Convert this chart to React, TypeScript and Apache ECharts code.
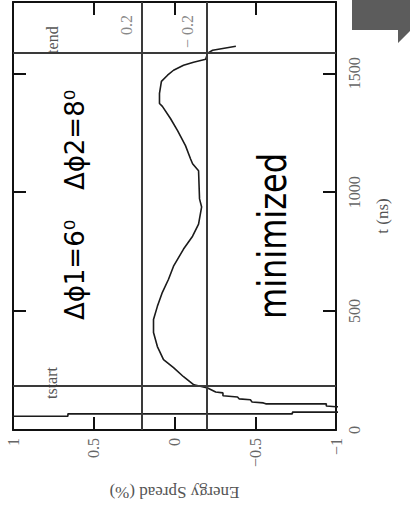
import React, { useEffect, useRef } from "react";
import * as echarts from "echarts";

// Bunch energy spread (%) sampled against time (ns)
const timeNs = [
  58, 58, 68, 68, 75, 75, 95, 98, 101, 110, 110, 114, 118, 127, 131, 139, 144, 156, 160,
  177, 190, 224, 262, 296, 351, 410, 465, 520, 579, 634, 689, 761, 815, 866, 938, 972,
  1090, 1120, 1141, 1196, 1259, 1310, 1361, 1373, 1416, 1466, 1492, 1513, 1534, 1547,
  1559, 1585, 1597, 1614,
];
const spreadPct = [
  1.6, 0.66, 0.66, -0.73, -0.73, -1.6, -1.6, -1.0, -0.94, -0.94, -0.565, -0.55, -0.48,
  -0.47, -0.4, -0.39, -0.3, -0.3, -0.255, -0.205, -0.12, -0.056, 0.006, 0.068, 0.106,
  0.13, 0.13, 0.106, 0.075, 0.037, 0.006, -0.056, -0.112, -0.149, -0.168, -0.155,
  -0.149, -0.112, -0.099, -0.068, -0.019, 0.025, 0.075, 0.093, 0.093, 0.081, 0.043,
  0.006, -0.056, -0.118, -0.193, -0.205, -0.236, -0.38,
];

// Axis ranges
const spreadRange = [-1, 1];
const spreadStep = 0.5;
const timeRange = [0, 1800];
const timeStep = 500;

// Reference markers
const tStart = 185;
const tEnd = 1585;
const spreadLimits = [0.2, -0.2];
const spreadLimitLabels = ["0.2", "\u2212 0.2"];

const SERIF = '"Liberation Serif", "DejaVu Serif", serif';
const SANS = '"DejaVu Sans", Verdana, sans-serif';
const FRAME = "#111";

const fmtSpread = (v: number) => (v < 0 ? "\u2212" + Math.abs(v) : String(v));
const fmtTime = (v: number) => String(v);

export default function App() {
  const ref = useRef<HTMLDivElement>(null);

  useEffect(() => {
    if (!ref.current) return;
    const chart = echarts.init(ref.current, undefined, { renderer: "svg" });

    const frameAxis = {
      axisLine: { show: true, onZero: false, lineStyle: { color: FRAME, width: 2 } },
      axisTick: { show: true, inside: true, length: 13, lineStyle: { color: FRAME, width: 2 } },
      splitLine: { show: false },
    };

    const option: any = {
      animation: false,
      backgroundColor: "#fff",
      grid: { left: 13, right: 74, top: 2, bottom: 80 },
      xAxis: [
        {
          type: "value",
          min: spreadRange[0],
          max: spreadRange[1],
          interval: spreadStep,
          inverse: true,
          position: "bottom",
          ...frameAxis,
          axisLabel: {
            rotate: 90,
            margin: 8,
            color: "#666",
            fontFamily: SERIF,
            fontSize: 16,
            formatter: fmtSpread,
          },
          name: "Energy Spread (%)",
          nameLocation: "middle",
          nameRotate: 180,
          nameGap: 54,
          nameTextStyle: { color: "#555", fontFamily: SERIF, fontSize: 17 },
        },
        {
          type: "value",
          min: spreadRange[0],
          max: spreadRange[1],
          interval: spreadStep,
          inverse: true,
          position: "top",
          ...frameAxis,
          axisLabel: { show: false },
        },
      ],
      yAxis: [
        {
          type: "value",
          min: timeRange[0],
          max: timeRange[1],
          interval: timeStep,
          position: "right",
          ...frameAxis,
          axisLabel: {
            rotate: 90,
            margin: 10,
            color: "#666",
            fontFamily: SERIF,
            fontSize: 16,
            showMaxLabel: false,
            formatter: fmtTime,
          },
          name: "t (ns)",
          nameLocation: "middle",
          nameRotate: 90,
          nameGap: 38,
          nameTextStyle: { color: "#555", fontFamily: SERIF, fontSize: 17 },
        },
        {
          type: "value",
          min: timeRange[0],
          max: timeRange[1],
          interval: timeStep,
          position: "left",
          ...frameAxis,
          axisLabel: { show: false },
        },
      ],
      series: [
        {
          type: "line",
          xAxisIndex: 0,
          yAxisIndex: 0,
          data: timeNs.map((t, i) => [spreadPct[i], t]),
          symbol: "none",
          showSymbol: false,
          clip: true,
          lineStyle: { color: "#1b1b1b", width: 1.6 },
          emphasis: { disabled: true },
          markLine: {
            silent: true,
            symbol: ["none", "none"],
            label: { show: false },
            lineStyle: { color: "#3a3a3a", width: 2, type: "solid" },
            data: [
              { yAxis: tStart },
              { yAxis: tEnd },
              ...spreadLimits.map((v) => ({ xAxis: v })),
            ],
          },
        },
      ],
    };

    chart.setOption(option);

    const px = (e: number, t: number) =>
      chart.convertToPixel({ seriesIndex: 0 }, [e, t]) as number[];
    const xLeft = px(spreadRange[1], 0)[0];
    const yTop = px(0, timeRange[1])[1];
    const yStart = px(0, tStart)[1];
    const yEnd = px(0, tEnd)[1];
    const limitX = spreadLimits.map((v) => px(v, 0)[0]);

    const vText = (
      text: string,
      x: number,
      y: number,
      font: string,
      fill: string,
      align = "center",
      extra: any = {}
    ) => ({
      type: "text",
      x,
      y,
      rotation: Math.PI / 2,
      silent: true,
      ...extra,
      style: { text, font, fill, align, verticalAlign: "middle" },
    });

    chart.setOption({
      graphic: [
        vText("tstart", xLeft + 38, yStart - 3, `16px ${SERIF}`, "#555"),
        vText("tend", xLeft + 39, yEnd - 13, `16px ${SERIF}`, "#555"),
        vText(spreadLimitLabels[0], limitX[0] - 16, yTop + 13, `16px ${SERIF}`, "#888", "right"),
        vText(spreadLimitLabels[1], limitX[1] - 19, yTop + 13, `16px ${SERIF}`, "#888", "right"),
        vText("\u0394\u03d51=6\u2070", 75, 270, `26px ${SANS}`, "#000"),
        vText("\u0394\u03d52=8\u2070", 75, 140, `26px ${SANS}`, "#000"),
        vText("minimized", 272, 236, `32px ${SANS}`, "#000", "center", { scaleY: 1.2 }),
        {
          type: "polygon",
          silent: true,
          shape: {
            points: [
              [352, -20],
              [398, -20],
              [398, -33],
              [436, 5],
              [398, 43],
              [398, 30],
              [352, 30],
            ],
          },
          style: { fill: "#5c5c5c" },
        },
      ],
    });

    return () => chart.dispose();
  }, []);

  return (
    <div
      ref={ref}
      style={{ position: "fixed", left: 0, top: 0, width: 410, height: 510, background: "#fff" }}
    />
  );
}
